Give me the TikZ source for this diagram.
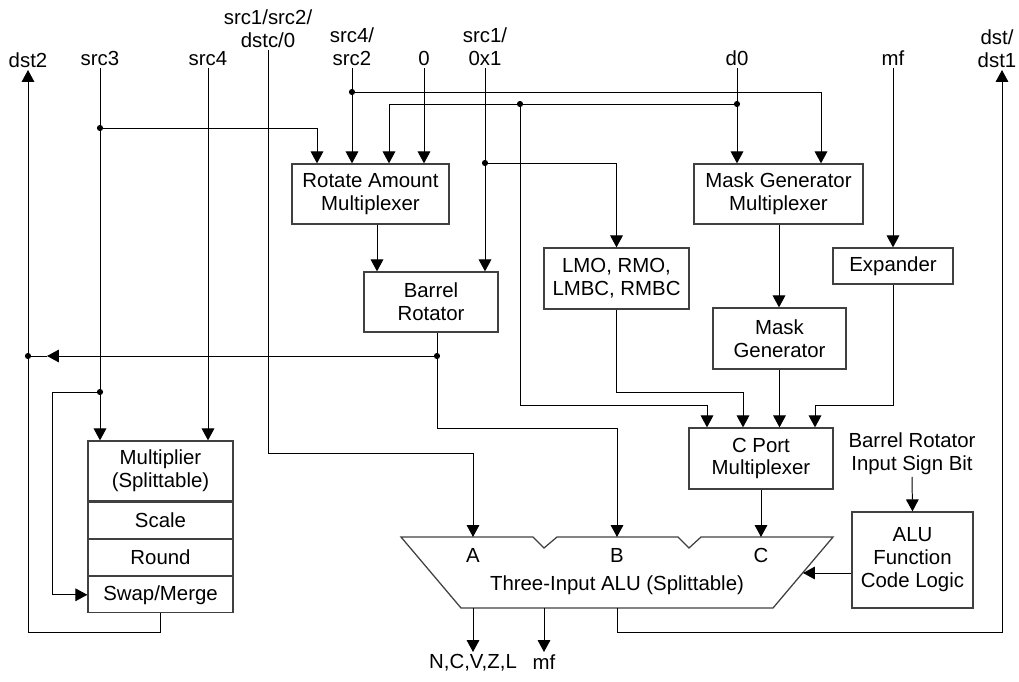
\documentclass[tikz,border=0pt]{standalone}
\usepackage{fontspec}
\setmainfont{Liberation Sans}
\usetikzlibrary{arrows.meta}

\begin{document}
\begin{tikzpicture}[x=0.025cm, y=-0.025cm, >={Triangle[length=8.5pt,width=9pt]},
    line width=0.7pt,
    font=\fontsize{14.5}{16.3}\selectfont,
    blk/.style 2 args={draw=black!75, line width=0.9pt, align=center, inner sep=0pt,
        minimum width=#1*0.025cm, minimum height=#2*0.025cm},
    lbl/.style={align=center, inner sep=1.5pt}]

        \useasboundingbox (0,0) rectangle (1019,682);

        % Inputs and outputs along the top
        \node[lbl, anchor=south] (dst2) at (28,70) {dst2};
        \node[lbl, anchor=south] (src3) at (100,68) {src3};
        \node[lbl, anchor=south] (src4) at (208,68) {src4};
        \node[lbl, anchor=south] (srcA) at (268,50) {src1/src2/\\dstc/0};
        \node[lbl, anchor=south] (srcR) at (352,68) {src4/\\src2};
        \node[lbl, anchor=south] (zero) at (424,68) {0};
        \node[lbl, anchor=south] (srcB) at (485,68) {src1/\\0x1};
        \node[lbl, anchor=south] (dzero) at (737,68) {d0};
        \node[lbl, anchor=south] (mfin) at (893,68) {mf};
        \node[lbl, anchor=south] (dst1) at (997,70) {dst/\\dst1};

        % Blocks
        \node[blk={157}{60}] (ramux) at (370.5,194) {Rotate Amount\\Multiplexer};
        \node[blk={169}{60}] (mgmux) at (778.5,194) {Mask Generator\\Multiplexer};
        \node[blk={134}{60}] (barrel) at (431,302) {Barrel\\Rotator};
        \node[blk={145}{61}] (lmo) at (616.5,278.5) {LMO, RMO,\\LMBC, RMBC};
        \node[blk={120}{36}] (expand) at (893,266) {Expander};
        \node[blk={133}{61}] (maskgen) at (779.5,338.5) {Mask\\Generator};
        \node[blk={144}{61}] (cport) at (761,458.5) {C Port\\Multiplexer};
        \node[blk={121}{96}] (alufn) at (912.5,560) {ALU\\Function\\Code Logic};
        \node[lbl, anchor=south] (sign) at (912,477) {Barrel Rotator\\Input Sign Bit};

        % Multiplier stack
        \node[blk={145}{60}] (mult) at (160.5,471) {Multiplier\\(Splittable)};
        \node[blk={145}{36}, anchor=north] (scale) at (mult.south) {Scale};
        \node[blk={145}{36}, anchor=north] (round) at (scale.south) {Round};
        \node[blk={145}{36}, anchor=north] (swap) at (round.south) {Swap/Merge};

        % Three-input ALU
        \draw[draw=black!75, line width=0.9pt] (401,537) -- (533,537) -- (544,548) -- (557,537)
            -- (678,537) -- (689,548) -- (701,537) -- (833,537) -- (773,608) -- (461,608) -- cycle;
        \coordinate (aluA) at (473,537);
        \coordinate (aluB) at (617,537);
        \coordinate (aluC) at (761,537);
        \coordinate (aluF) at (803,573);
        \coordinate (aluO1) at (473,608);
        \coordinate (aluO2) at (544,608);
        \coordinate (aluO3) at (617,608);
        \node (ta) at (473,555) {A};
        \node (tb) at (617,555) {B};
        \node (tc) at (761,555) {C};
        \node (alu) at (617,585) {Three-Input ALU (Splittable)};

        \node[lbl, anchor=north] (flags) at (473,652) {N,C,V,Z,L};
        \node[lbl, anchor=north] (mfout) at (544,652) {mf};

        % Junctions
        \coordinate (j3a) at (100,128);
        \coordinate (j3b) at (100,392);
        \coordinate (jR) at (352,92);
        \coordinate (jD) at (737,104);
        \coordinate (jM) at (520,104);
        \coordinate (jB) at (485,163);
        \coordinate (jBR) at (437,356);
        \coordinate (jL) at (28,356);
        \coordinate (jO) at (1002,632);

        % Connectors
        \draw[->] (src3.south) -- (src3.south |- mult.north);
        \draw[->] (j3a) -| (317,0 |- ramux.north);
        \draw[->] (j3b) -- (52,0 |- j3b) |- (swap.west);
        \draw[->] (src4.south) -- (src4.south |- mult.north);
        \draw[->] (srcA.south) |- (aluA |- 0,453) -- (aluA);
        \draw[->] (srcR.south) -- (srcR.south |- ramux.north);
        \draw[->] (jR) -| (821,0 |- mgmux.north);
        \draw[->] (zero.south) -- (zero.south |- ramux.north);
        \draw[->] (dzero.south) -- (dzero.south |- mgmux.north);
        \draw[->] (jD) -| (389,0 |- ramux.north);
        \draw[->] (jM) |- (707,405) -- (cport.north -| 707,0);
        \draw[->] (srcB.south) -- (srcB.south |- barrel.north);
        \draw[->] (jB) -| (lmo.north);
        \draw[->] (mfin.south) -- (expand.north);
        \draw[->] (expand.south) |- (815,405) -- (cport.north -| 815,0);

        \draw[->] (ramux.south -| 377,0) -- (barrel.north -| 377,0);
        \draw[->] (barrel.south -| 437,0) |- (617,428) -- (aluB);
        \draw[->] (jBR) -- (47,0 |- jL);
        \draw (47,0 |- jL) -- (jL);
        \draw[->] (lmo.south) |- (743,392) -- (cport.north -| 743,0);
        \draw[->] (mgmux.south -| 779,0) -- (maskgen.north -| 779,0);
        \draw[->] (maskgen.south) -- (maskgen.south |- cport.north);
        \draw[->] (cport.south) -- (aluC);
        \draw[->] (sign.south) -- (alufn.north);
        \draw[->] (alufn.west |- aluF) -- (aluF);
        \draw[->] (aluO1) -- (flags.north);
        \draw[->] (aluO2) -- (mfout.north);
        \draw[->] (aluO3) |- (jO) -- (jO |- dst1.south);
        \draw[->] (swap.south) |- (dst2.south |- jO) -- (dst2.south);

        \foreach \p in {j3a,j3b,jR,jD,jM,jB,jBR,jL}
            \fill (\p) circle (2.2pt);

    \end{tikzpicture}
\end{document}
